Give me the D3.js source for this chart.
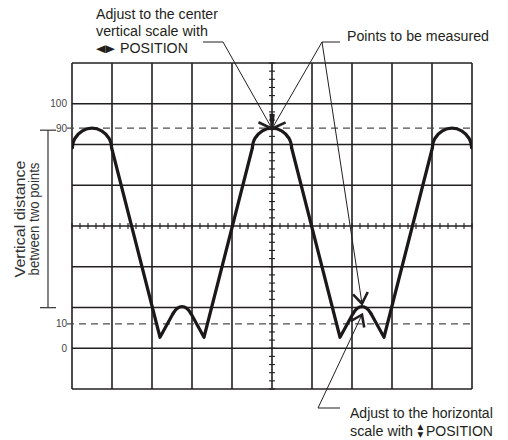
<!DOCTYPE html>
<html><head><meta charset="utf-8">
<script src="https://cdn.jsdelivr.net/npm/d3@7"></script>
<style>body{margin:0;background:#fff} svg{display:block}</style>
</head><body>
<svg id="chart" width="508" height="440"></svg>
<script>
// ---- data (x in screen divisions, y in percent of amplitude) ----
const levelValues = [100, 90, 10, 0];
const levelLabels = ["100", "90", "10", "0"];
const dashedLevels = [90, 10];
const peakCentres = [0.5, 5.0, 9.5];
const peakCap = [[-0.49,82],[-0.47,84.1],[-0.42,86],[-0.24,88.9],[0,90],[0.24,88.9],[0.42,86],[0.47,84.1],[0.49,82]];
const humpCentres = [2.75, 7.25];
const humpCap = [[-0.22,14.3],[-0.12,16.3],[0,17],[0.12,16.3],[0.22,14.3]];
const troughs = [[2.2,4.5],[3.3,4.5],[6.7,4.5],[7.8,4.5]];
const measuredPoints = [[5, 90], [7.25, 17]];
const noteTopLines = ["Adjust to the center", "vertical scale with", "POSITION"];
const noteRightLine = "Points to be measured";
const noteBottomLines = ["Adjust to the horizontal", "scale with", "POSITION"];
const sideLabelLines = ["Vertical distance", "between two points"];

// ---- layout ----
const svg = d3.select("#chart");
const x = d3.scaleLinear().domain([0, 10]).range([72, 472]);
const yDiv = d3.scaleLinear().domain([0, 8]).range([63, 389]);
const yPct = d3.scaleLinear().domain([0, 100]).range([yDiv(7), yDiv(1)]);
const INK = "#231f20";
const FONT = "'Liberation Sans', Arial, sans-serif";

// grid
const grid = svg.append("g");
grid.selectAll("line.v").data(d3.range(0, 11)).join("line")
  .attr("x1", d => x(d)).attr("x2", d => x(d)).attr("y1", yDiv(0)).attr("y2", yDiv(8))
  .attr("stroke", INK).attr("stroke-width", 1.6);
grid.selectAll("line.h").data(d3.range(0, 9)).join("line")
  .attr("class", "h")
  .attr("y1", d => yDiv(d)).attr("y2", d => yDiv(d)).attr("x1", x(0)).attr("x2", x(10))
  .attr("stroke", INK).attr("stroke-width", 1.6);

// centre-line minor ticks
const hTicks = d3.range(0, 10.001, 0.2);
const vTicks = d3.range(0, 8.001, 0.2);
grid.append("g").selectAll("line").data(hTicks).join("line")
  .attr("x1", d => x(d)).attr("x2", d => x(d))
  .attr("y1", yDiv(4) - 3).attr("y2", yDiv(4) + 3)
  .attr("stroke", INK).attr("stroke-width", 1.1);
grid.append("g").selectAll("line").data(vTicks).join("line")
  .attr("y1", d => yDiv(d)).attr("y2", d => yDiv(d))
  .attr("x1", x(5) - 3).attr("x2", x(5) + 3)
  .attr("stroke", INK).attr("stroke-width", 1.1);

// dashed 10% / 90% levels
svg.append("g").selectAll("line").data(dashedLevels).join("line")
  .attr("x1", 67).attr("x2", x(10))
  .attr("y1", d => yPct(d)).attr("y2", d => yPct(d))
  .attr("stroke", "#4d4d4d").attr("stroke-width", 1.3)
  .attr("stroke-dasharray", "7,5");

// level labels
svg.append("g").selectAll("text").data(levelValues).join("text")
  .attr("x", 67).attr("y", d => yPct(d))
  .attr("dy", "0.35em").attr("text-anchor", "end")
  .attr("font-family", FONT).attr("font-size", 10).attr("fill", "#444")
  .text((d, i) => levelLabels[i]);

// waveform
const caps = peakCentres.map(c => ({c, shape: peakCap}))
  .concat(humpCentres.map(c => ({c, shape: humpCap})))
  .sort((a, b) => a.c - b.c)
  .map(o => o.shape.map(([dx, v]) => [o.c + dx, v]));
const edges = troughs.map((t, i) => [caps[i][caps[i].length - 1], t, caps[i + 1][0]]);
svg.append("clipPath").attr("id", "gclip").append("rect")
  .attr("x", x(0)).attr("y", yDiv(0)).attr("width", x(10) - x(0)).attr("height", yDiv(8) - yDiv(0));
const wave = svg.append("g").attr("clip-path", "url(#gclip)");
const capLine = d3.line().x(d => x(d[0])).y(d => yPct(d[1])).curve(d3.curveCatmullRom.alpha(0.5));
const edgeLine = d3.line().x(d => x(d[0])).y(d => yPct(d[1]));
wave.selectAll("path.cap").data(caps).join("path").attr("class", "cap")
  .attr("d", capLine).attr("fill", "none").attr("stroke", "#1c1819")
  .attr("stroke-width", 3.2).attr("stroke-linecap", "round").attr("stroke-linejoin", "round");
wave.selectAll("path.edge").data(edges).join("path").attr("class", "edge")
  .attr("d", edgeLine).attr("fill", "none").attr("stroke", "#1c1819")
  .attr("stroke-width", 3.2).attr("stroke-linecap", "round").attr("stroke-linejoin", "round");

// ---- annotations ----
const ann = svg.append("g");
function leader(p, q) {
  ann.append("line").attr("x1", p[0]).attr("y1", p[1]).attr("x2", q[0]).attr("y2", q[1])
    .attr("stroke", INK).attr("stroke-width", 1);
}
function arrow(from, tip, len, ang) {
  leader(from, tip);
  const a = Math.atan2(from[1] - tip[1], from[0] - tip[0]);
  const p1 = [tip[0] + len * Math.cos(a + ang), tip[1] + len * Math.sin(a + ang)];
  const p2 = [tip[0] + len * Math.cos(a - ang), tip[1] + len * Math.sin(a - ang)];
  ann.append("path").attr("d", d3.line()([p1, tip, p2]))
    .attr("fill", "none").attr("stroke", INK).attr("stroke-width", 2.6)
    .attr("stroke-linejoin", "miter");
}
const pTop = [x(measuredPoints[0][0]), yPct(measuredPoints[0][1])];
const pLow = [x(measuredPoints[1][0]), yPct(measuredPoints[1][1])];
const ang = 35 * Math.PI / 180;
leader([203, 42], [223, 42]);
arrow([223, 42], [pTop[0], pTop[1] + 0.5], 15, ang);
leader([322, 42], [340, 42]);
arrow([322, 42], [pTop[0], pTop[1] + 0.5], 15, ang);
arrow([322, 42], [pLow[0], pLow[1] - 3], 13, ang);
leader([318, 408], [340, 408]);
arrow([318, 408], [pLow[0], pLow[1] + 8], 13, ang);

// text fitted to a target width by horizontal scaling (keeps glyph height)
function label(txt, px, py, w, opts = {}) {
  const g = ann.append("g");
  const t = g.append("text").attr("x", 0).attr("y", 0)
    .attr("font-family", opts.family || FONT).attr("font-size", opts.size || 15)
    .attr("fill", opts.fill || INK).text(txt);
  const nat = t.node().getComputedTextLength() || w;
  const sx = w ? w / nat : 1;
  const rot = opts.rotate ? ` rotate(${opts.rotate})` : "";
  const off = opts.centre ? -w / 2 : 0;
  g.attr("transform", `translate(${px},${py})${rot} translate(${off},0) scale(${sx},1)`);
  return t;
}
// top-left note
label(noteTopLines[0], 96, 19, 122);
label(noteTopLines[1], 96, 36, 112);
label("◀▶", 96, 52, 19, {family: "'DejaVu Sans', sans-serif", size: 10.5});
label(noteTopLines[2], 120, 53, 68);
// top-right note
label(noteRightLine, 347, 41, 142);
// bottom note
label(noteBottomLines[0], 350, 418, 143);
label(noteBottomLines[1], 350, 436, 63);
// stacked up/down triangles as one text element
const ud = ann.append("text").attr("font-family", "'DejaVu Sans', sans-serif")
  .attr("font-size", 7.5).attr("fill", INK);
ud.append("tspan").attr("x", 417.5).attr("y", 428.5).text("▲");
ud.append("tspan").attr("x", 417.5).attr("y", 436.5).text("▼");
label(noteBottomLines[2], 426, 436, 67);

// side bracket and rotated label
const bTop = yPct(measuredPoints[0][1]) + 2, bBot = yPct(measuredPoints[1][1]) + 1;
const br = svg.append("g").attr("stroke", "#333").attr("stroke-width", 1.2);
br.append("line").attr("x1", 48).attr("x2", 48).attr("y1", bTop).attr("y2", bBot);
br.append("line").attr("x1", 40).attr("x2", 56).attr("y1", bTop).attr("y2", bTop);
br.append("line").attr("x1", 40).attr("x2", 56).attr("y1", bBot).attr("y2", bBot);
const midY = (bTop + bBot) / 2;
label(sideLabelLines[0], 25, midY, 117, {rotate: -90, centre: true, fill: "#333"});
label(sideLabelLines[1], 39, midY, 113, {rotate: -90, centre: true, fill: "#333"});
</script>
</body></html>
